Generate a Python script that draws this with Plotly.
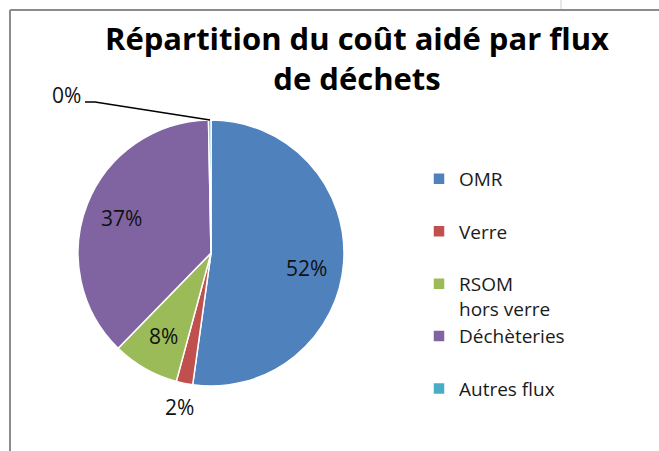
import math
import plotly.graph_objects as go

# ---- data ----
categories = ["OMR", "Verre", "RSOM<br>hors verre", "Déchèteries", "Autres flux"]
values = [52.2, 2.0, 8.1, 37.4, 0.3]
colors = ["#4F81BD", "#C0504D", "#9BBB59", "#8064A2", "#4BACC6"]
title_text = "Répartition du coût aidé par flux<br>de déchets"

W, H = 659, 451

def px(x):
    return x / W

def py(y):
    return 1 - y / H

total = sum(values)
# legend entries: pad single-line labels so every entry takes two lines (Excel spreads items evenly)
legend_labels = [c if "<br>" in c else c + "<br> " for c in categories]

cx, cy, r = 211, 253, 133
label_font = dict(family="Open Sans", size=21, color="#111111")

fig = go.Figure()
fig.add_trace(go.Pie(
    labels=legend_labels,
    values=values,
    sort=False,
    direction="clockwise",
    rotation=0,
    marker=dict(colors=colors, line=dict(color="white", width=1.5)),
    textinfo="none",
    domain=dict(x=[px(cx - r), px(cx + r)], y=[py(cy + r), py(cy - r)]),
    hoverinfo="label+percent",
    showlegend=True,
))

# percentage labels, placed along each slice's mid-angle (Excel-like placement)
cum = 0.0
for i, v in enumerate(values):
    frac = v / total
    mid = (cum + frac / 2) * 2 * math.pi  # clockwise from 12 o'clock
    cum += frac
    txt = f"{frac:.0%}"
    if i == len(values) - 1:
        # tiny slice: label out to the upper left with a leader line
        fig.add_annotation(x=px(66), y=py(95), xref="paper", yref="paper", text=txt,
                           showarrow=False, font=label_font, xanchor="center", yanchor="middle")
        continue
    k = 0.72 if frac > 0.05 else 1.18
    lx = cx + k * r * math.sin(mid)
    ly = cy - k * r * math.cos(mid) + (8 if frac > 0.5 else 0)
    fig.add_annotation(x=px(lx), y=py(ly), xref="paper", yref="paper", text=txt,
                       showarrow=False, font=label_font, xanchor="center", yanchor="middle")

shapes = [
    # leader line of the tiny slice label
    dict(type="path", xref="paper", yref="paper",
         path=f"M {px(85)},{py(102)} L {px(95)},{py(102)} L {px(cx - 1)},{py(cy - r)}",
         line=dict(color="black", width=1.5)),
    # chart frame (top and left edges)
    dict(type="line", xref="paper", yref="paper", x0=px(10), x1=1, y0=py(10), y1=py(10),
         line=dict(color="#8c8c8c", width=2)),
    dict(type="line", xref="paper", yref="paper", x0=px(10), x1=px(10), y0=0, y1=py(10),
         line=dict(color="#8c8c8c", width=2)),
    dict(type="line", xref="paper", yref="paper", x0=px(561), x1=px(561), y0=py(9), y1=1,
         line=dict(color="#d0d0d0", width=1)),
]

fig.update_layout(
    width=W, height=H,
    margin=dict(l=0, r=0, t=0, b=0),
    paper_bgcolor="white",
    plot_bgcolor="white",
    title=dict(text=title_text, x=px(357), xanchor="center", y=py(50), yanchor="top",
               font=dict(family="Open Sans", size=31, color="black", weight="bold")),
    legend=dict(x=px(419), y=py(160), xanchor="left", yanchor="top", valign="top",
                font=dict(family="Open Sans", size=19, color="#1a1a1a"),
                bgcolor="rgba(0,0,0,0)", traceorder="normal"),
    shapes=shapes,
)

fig.write_html("out.html", config={"displayModeBar": False},
               post_script="document.body.style.margin='0';document.body.style.overflow='hidden';")
